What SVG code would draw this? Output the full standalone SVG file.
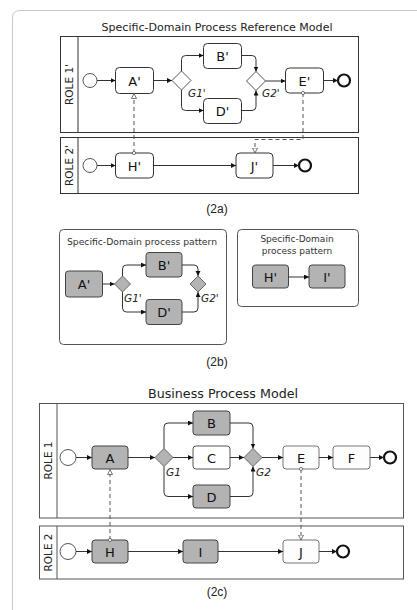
<svg xmlns="http://www.w3.org/2000/svg" width="417" height="610" viewBox="0 0 417 610">
<style>
.frame{fill:none;stroke:#c8c8c8;stroke-width:1}
.pool{fill:#fff;stroke:#333;stroke-width:1}
.pool2c{fill:none;stroke:#555;stroke-width:1}
.task{fill:#fff;stroke:#333;stroke-width:1}
.taskg{fill:#b3b3b3;stroke:#444;stroke-width:1}
.taskl{fill:#fdfdfd;stroke:#777;stroke-width:1}
.gw{fill:#fff;stroke:#555;stroke-width:1}
.gwg{fill:#b3b3b3;stroke:#666;stroke-width:1}
.start{fill:#fff;stroke:#555;stroke-width:1}
.end{fill:#fff;stroke:#111;stroke-width:2.2}
.box{fill:#fff;stroke:#555;stroke-width:1}
.flow{fill:none;stroke:#333;stroke-width:1;marker-end:url(#arr)}
.msg{fill:none;stroke:#555;stroke-width:1;stroke-dasharray:4,3;marker-start:url(#dot);marker-end:url(#harr)}
.lbl{font-family:"DejaVu Sans",sans-serif;font-size:13px;fill:#111;text-anchor:middle}
.gl{font-family:"DejaVu Sans",sans-serif;font-size:10.5px;font-style:italic;fill:#222}
.role{font-family:"DejaVu Sans",sans-serif;font-size:10.5px;fill:#222;text-anchor:middle}
.title{font-family:"DejaVu Sans",sans-serif;font-size:10.5px;fill:#222;text-anchor:middle}
.cap{font-family:"Liberation Sans",Arial,sans-serif;font-size:12px;fill:#222;text-anchor:middle}
.ptitle{font-family:"DejaVu Sans",sans-serif;font-size:9px;fill:#333;text-anchor:middle}
</style>
<defs>
<marker id="arr" markerUnits="userSpaceOnUse" markerWidth="6" markerHeight="6" refX="5" refY="2.5" orient="auto">
<path d="M0,0 L5,2.5 L0,5 z" fill="#111"/>
</marker>
<marker id="harr" markerUnits="userSpaceOnUse" markerWidth="8" markerHeight="8" refX="5.5" refY="3" orient="auto">
<path d="M0.5,0.5 L5.5,3 L0.5,5.5 z" fill="#fff" stroke="#555" stroke-width="0.8"/>
</marker>
<marker id="dot" markerUnits="userSpaceOnUse" markerWidth="6" markerHeight="6" refX="3" refY="3" orient="auto">
<circle cx="3" cy="3" r="1.6" fill="#fff" stroke="#555" stroke-width="0.8"/>
</marker>
</defs>

<path class="frame" d="M12.5,620 V18 Q12.5,10.5 20,10.5 H425"/>

<!-- ===== 2a ===== -->
<text class="title" x="217" y="31" textLength="231" lengthAdjust="spacingAndGlyphs">Specific-Domain Process Reference Model</text>

<g id="pool-role1p">
<rect class="pool" x="60.5" y="36.5" width="298" height="96"/>
<line x1="78" y1="36.5" x2="78" y2="132.5" stroke="#333"/>
<text class="role" transform="translate(73,84.5) rotate(-90)">ROLE 1'</text>
</g>
<g id="pool-role2p">
<rect class="pool" x="60.5" y="137.5" width="298" height="56"/>
<line x1="78" y1="137.5" x2="78" y2="193.5" stroke="#333"/>
<text class="role" transform="translate(73,165.5) rotate(-90)">ROLE 2'</text>
</g>

<g id="a-start1"><circle class="start" cx="90" cy="80.5" r="7"/></g>
<g id="a-Ap"><rect class="task" x="115.5" y="67.5" width="38" height="26" rx="4"/><text class="lbl" x="134.5" y="85.5">A'</text></g>
<g id="a-G1p"><polygon class="gw" points="172,80.5 181.5,71 191,80.5 181.5,90"/><text class="gl" x="188" y="97">G1'</text></g>
<g id="a-Bp"><rect class="task" x="203.5" y="43.5" width="38" height="25" rx="4"/><text class="lbl" x="222.5" y="61">B'</text></g>
<g id="a-Dp"><rect class="task" x="203.5" y="98.5" width="38" height="25" rx="4"/><text class="lbl" x="222.5" y="116">D'</text></g>
<g id="a-G2p"><polygon class="gw" points="246.5,81 256,71.5 265.5,81 256,90.5"/><text class="gl" x="262" y="97">G2'</text></g>
<g id="a-Ep"><rect class="task" x="285.5" y="68" width="38" height="25" rx="4"/><text class="lbl" x="304.5" y="85.5">E'</text></g>
<g id="a-end1"><circle class="end" cx="344" cy="80.5" r="6"/></g>

<g id="a-start2"><circle class="start" cx="90" cy="165.5" r="7"/></g>
<g id="a-Hp"><rect class="task" x="115.5" y="153" width="38" height="25" rx="4"/><text class="lbl" x="134.5" y="170.5">H'</text></g>
<g id="a-Jp"><rect class="task" x="236" y="153" width="37" height="25" rx="4"/><text class="lbl" x="254.5" y="170.5">J'</text></g>
<g id="a-end2"><circle class="end" cx="305" cy="165.5" r="6"/></g>

<g id="a-connectors">
<path class="flow" d="M97,80.5 H115.5"/>
<path class="flow" d="M153.5,80.5 H172"/>
<path class="flow" d="M181.5,71 V59.5 Q181.5,55.5 185.5,55.5 H203.5"/>
<path class="flow" d="M181.5,90 V106.5 Q181.5,110.5 185.5,110.5 H203.5"/>
<path class="flow" d="M241.5,55.5 H252 Q256,55.5 256,59.5 V71.5"/>
<path class="flow" d="M241.5,110.5 H252 Q256,110.5 256,106.5 V90.5"/>
<path class="flow" d="M265.5,81 H285.5"/>
<path class="flow" d="M323.5,80.5 H338"/>
<path class="flow" d="M97,165.5 H115.5"/>
<path class="flow" d="M153.5,165.5 H236"/>
<path class="flow" d="M273,165.5 H299"/>
<path class="msg" d="M134,153 V93.5"/>
<path class="msg" d="M303,93 V139.5 H255 V153"/>
</g>
<text class="cap" x="217" y="213">(2a)</text>

<!-- ===== 2b ===== -->
<g id="pattern1">
<rect class="box" x="59.5" y="229.5" width="167" height="115" rx="4"/>
<text class="ptitle" x="142" y="245" textLength="150" lengthAdjust="spacingAndGlyphs">Specific-Domain process pattern</text>
</g>
<g id="b-Ap"><rect class="taskg" x="65.5" y="271" width="37" height="26" rx="3"/><text class="lbl" x="84" y="289">A'</text></g>
<g id="b-G1p"><polygon class="gwg" points="114.5,284 122.5,276 130.5,284 122.5,292"/><text class="gl" x="124" y="302">G1'</text></g>
<g id="b-Bp"><rect class="taskg" x="146" y="252.5" width="36" height="24.5" rx="3"/><text class="lbl" x="164" y="270">B'</text></g>
<g id="b-Dp"><rect class="taskg" x="146" y="299.5" width="36" height="25" rx="3"/><text class="lbl" x="164" y="317">D'</text></g>
<g id="b-G2p"><polygon class="gwg" points="190,284 198,276 206,284 198,292"/><text class="gl" x="201" y="302">G2'</text></g>
<g id="pattern2">
<rect class="box" x="237.5" y="229.5" width="121" height="77" rx="4"/>
<text class="ptitle" x="297" y="242">Specific-Domain</text>
<text class="ptitle" x="297" y="254">process pattern</text>
</g>
<g id="b-Hp"><rect class="taskg" x="252.5" y="265" width="36" height="23" rx="3"/><text class="lbl" x="270.5" y="281.5">H'</text></g>
<g id="b-Ip"><rect class="taskg" x="309" y="265" width="36" height="23" rx="3"/><text class="lbl" x="327" y="281.5">I'</text></g>
<g id="b-connectors">
<path class="flow" d="M102.5,284 H114.5"/>
<path class="flow" d="M122.5,276 V269 Q122.5,265 126.5,265 H146"/>
<path class="flow" d="M122.5,292 V308 Q122.5,312 126.5,312 H146"/>
<path class="flow" d="M182,265 H194 Q198,265 198,269 V276"/>
<path class="flow" d="M182,312 H194 Q198,312 198,308 V292"/>
<path class="flow" d="M288.5,277 H309"/>
</g>
<text class="cap" x="217" y="366">(2b)</text>

<!-- ===== 2c ===== -->
<text class="title" x="223" y="398" style="font-size:12.5px" textLength="150" lengthAdjust="spacingAndGlyphs">Business Process Model</text>
<g id="pool-role1">
<rect class="pool2c" x="39.5" y="403.5" width="364" height="114.5"/>
<line x1="57" y1="403.5" x2="57" y2="518" stroke="#555"/>
<text class="role" transform="translate(52,460.5) rotate(-90)">ROLE 1</text>
</g>
<g id="pool-role2">
<rect class="pool2c" x="39.5" y="526" width="364" height="53"/>
<line x1="57" y1="526" x2="57" y2="579" stroke="#555"/>
<text class="role" transform="translate(52,552.5) rotate(-90)">ROLE 2</text>
</g>

<g id="c-start1"><circle class="start" cx="68" cy="457.5" r="8"/></g>
<g id="c-A"><rect class="taskg" x="92" y="446" width="36" height="23" rx="3"/><text class="lbl" x="110" y="462.5">A</text></g>
<g id="c-G1"><polygon class="gwg" points="155,457.5 164,448.5 173,457.5 164,466.5"/><text class="gl" x="166" y="476">G1</text></g>
<g id="c-B"><rect class="taskg" x="193" y="411" width="37" height="24" rx="3"/><text class="lbl" x="211.5" y="428">B</text></g>
<g id="c-C"><rect class="task" x="193" y="446" width="37" height="23" rx="3" style="stroke:#555"/><text class="lbl" x="211.5" y="462.5">C</text></g>
<g id="c-D"><rect class="taskg" x="193" y="485" width="37" height="23" rx="3"/><text class="lbl" x="211.5" y="501.5">D</text></g>
<g id="c-G2"><polygon class="gwg" points="244,457.5 253,448.5 262,457.5 253,466.5"/><text class="gl" x="256" y="476">G2</text></g>
<g id="c-E"><rect class="taskl" x="283" y="446" width="36" height="23" rx="3"/><text class="lbl" x="301" y="462.5">E</text></g>
<g id="c-F"><rect class="taskl" x="333" y="446" width="37" height="23" rx="3"/><text class="lbl" x="351.5" y="462.5">F</text></g>
<g id="c-end1"><circle class="end" cx="390" cy="457.5" r="6"/></g>

<g id="c-start2"><circle class="start" cx="68" cy="551.5" r="8"/></g>
<g id="c-H"><rect class="taskg" x="92" y="540" width="36" height="23" rx="3"/><text class="lbl" x="110" y="556.5">H</text></g>
<g id="c-I"><rect class="taskg" x="183" y="540" width="35" height="23" rx="3"/><text class="lbl" x="200.5" y="556.5">I</text></g>
<g id="c-J"><rect class="taskl" x="283" y="540" width="36" height="23" rx="3"/><text class="lbl" x="301" y="556.5">J</text></g>
<g id="c-end2"><circle class="end" cx="343" cy="551.5" r="6"/></g>

<g id="c-connectors">
<path class="flow" d="M76,457.5 H92"/>
<path class="flow" d="M128,457.5 H155"/>
<path class="flow" d="M173,457.5 H193"/>
<path class="flow" d="M164,448.5 V427 Q164,423 168,423 H193"/>
<path class="flow" d="M164,466.5 V492.5 Q164,496.5 168,496.5 H193"/>
<path class="flow" d="M230,423 H249 Q253,423 253,427 V448.5"/>
<path class="flow" d="M230,457.5 H244"/>
<path class="flow" d="M230,496.5 H249 Q253,496.5 253,492.5 V466.5"/>
<path class="flow" d="M262,457.5 H283"/>
<path class="flow" d="M319,457.5 H333"/>
<path class="flow" d="M370,457.5 H384"/>
<path class="flow" d="M76,551.5 H92"/>
<path class="flow" d="M128,551.5 H183"/>
<path class="flow" d="M218,551.5 H283"/>
<path class="flow" d="M319,551.5 H337"/>
<path class="msg" d="M110,540 V469.5"/>
<path class="msg" d="M301,469 V540"/>
</g>
<text class="cap" x="217" y="596">(2c)</text>
</svg>
